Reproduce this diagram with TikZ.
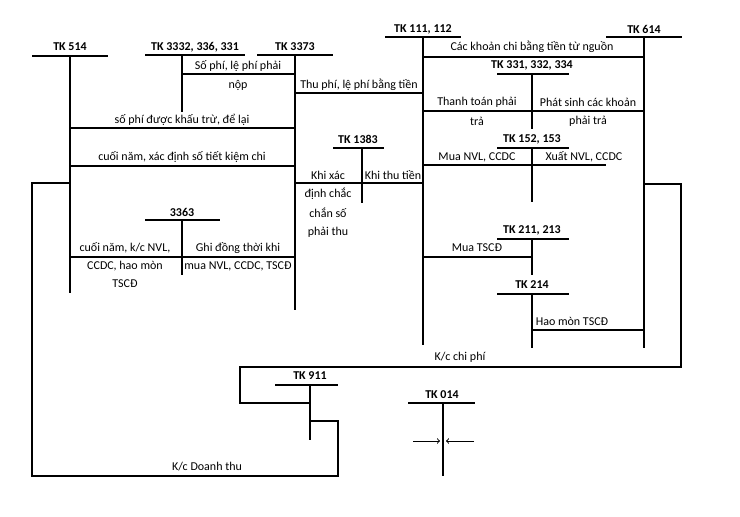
\documentclass[tikz,border=0pt]{standalone}
\usepackage{fontspec}
\setmainfont{Carlito}
\begin{document}
\begin{tikzpicture}[x=1pt,y=-1pt,line width=1.2pt,
  t/.style={inner sep=0pt,font=\fontsize{12}{13}\selectfont},
  title/.style={t,font=\fontsize{12}{13}\selectfont\bfseries}]
\useasboundingbox (0,0) rectangle (740,517);
% titles
\node[title] (n514) at (70,47) {TK 514};
\node[title] (n3332) at (195,47) {TK 3332, 336, 331};
\node[title] (n3373) at (295,47) {TK 3373};
\node[title] (n111) at (423,29) {TK 111, 112};
\node[title] (n614) at (644,29) {TK 614};
\node[title] (n331) at (532,65) {TK 331, 332, 334};
\node[title] (n1383) at (358,139) {TK 1383};
\node[title] (n152) at (532,139) {TK 152, 153};
\node[title] (n3363) at (182,212) {3363};
\node[title] (n211) at (532,230) {TK 211, 213};
\node[title] (n214) at (532,285) {TK 214};
\node[title] (n911) at (310,376) {TK 911};
\node[title] (n014) at (442,395) {TK 014};
% T-bars
\draw (32,56)--(108,56) (70,56)--(70,293);
\draw (145,55)--(245,55) (182,55)--(182,112);
\draw (257,55)--(333,55) (295,55)--(295,310);
\draw (385,37)--(461,37) (423,37)--(423,345);
\draw (606,37)--(682,37) (644,37)--(644,348);
\draw (497,74)--(569,74) (532,74)--(532,129);
\draw (333,148)--(384,148) (362,148)--(362,203);
\draw (497,148)--(569,148) (532,148)--(532,202);
\draw (145,220)--(220,220) (182,220)--(182,275);
\draw (497,239)--(569,239) (532,239)--(532,275);
\draw (497,294)--(569,294) (532,294)--(532,348);
\draw (275,385)--(338,385) (310,385)--(310,440);
\draw (408,403)--(475,403) (443,403)--(443,476);
% connectors
\draw (182,74)--(295,74);
\draw (295,93)--(423,93);
\draw (70,128)--(295,128);
\draw (70,166)--(295,166);
\draw (295,183)--(423,183);
\draw (70,257)--(295,257);
\draw (423,57)--(644,57);
\draw (423,111)--(644,111);
\draw (423,165)--(606,165);
\draw (423,257)--(532,257);
\draw (532,330)--(644,330);
\draw (70,183)--(32,183)--(32,476)--(338,476)--(338,421)--(310,421);
\draw (644,184)--(681,184)--(681,367)--(240,367)--(240,403)--(310,403);
\draw[line width=1pt,->] (413,441)--(440,441);
\draw[line width=1pt,->] (474,441)--(446,441);
% labels
\node[t] (l1) at (238,66) {Số phí, lệ phí phải};
\node[t] (l2) at (238,85) {nộp};
\node[t] (l3) at (359,85) {Thu phí, lệ phí bằng tiền};
\node[t] (l4) at (182,120) {số phí được khấu trừ, để lại};
\node[t] (l5) at (182,157) {cuối năm, xác định số tiết kiệm chi};
\node[t] (l6) at (328,175) {Khi xác};
\node[t] (l7) at (328,194) {định chắc};
\node[t] (l8) at (328,213) {chắn số};
\node[t] (l9) at (328,232) {phải thu};
\node[t] (l10) at (393,175) {Khi thu tiền};
\node[t] (l11) at (125,248) {cuối năm, k/c NVL,};
\node[t] (l12) at (125,266) {CCDC, hao mòn};
\node[t] (l13) at (125,284) {TSCĐ};
\node[t] (l14) at (238,248) {Ghi đồng thời khi};
\node[t] (l15) at (238,266) {mua NVL, CCDC, TSCĐ};
\node[t] (l16) at (532,47) {Các khoản chi bằng tiền từ nguồn};
\node[t] (l17) at (477,102) {Thanh toán phải};
\node[t] (l18) at (477,121) {trả};
\node[t] (l19) at (588,102) {Phát sinh các khoản};
\node[t] (l20) at (588,121) {phải trả};
\node[t] (l21) at (477,157) {Mua NVL, CCDC};
\node[t] (l22) at (584,157) {Xuất NVL, CCDC};
\node[t] (l23) at (477,248) {Mua TSCĐ};
\node[t] (l24) at (572,321) {Hao mòn TSCĐ};
\node[t] (l25) at (460,357) {K/c chi phí};
\node[t] (l26) at (207,467) {K/c Doanh thu};
\end{tikzpicture}
\end{document}
